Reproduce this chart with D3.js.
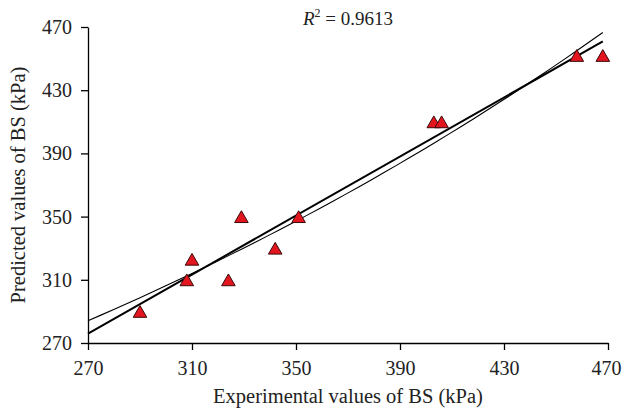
<!DOCTYPE html>
<html>
<head>
<meta charset="utf-8">
<script src="https://cdn.jsdelivr.net/npm/d3@7"></script>
<style>
  html, body { margin: 0; padding: 0; background: #fff; overflow: hidden; }
  svg { display: block; font-family: "Liberation Serif", "DejaVu Serif", serif; }
</style>
</head>
<body>
<svg id="chart"></svg>
<script>
// values
const experimental = [290, 308, 310, 324, 329, 342, 351, 403, 406, 458, 468];
const predicted = [290, 310, 323, 310, 350, 330, 350, 410, 410, 452, 452];
const tickValues = [270, 310, 350, 390, 430, 470];
const r2Label = "0.9613";

const width = 623;
const height = 410;
const margin = { top: 27, right: 15, bottom: 67, left: 88 };

const svg = d3.select("#chart").attr("width", width).attr("height", height);
const innerWidth = width - margin.left - margin.right;
const innerHeight = height - margin.top - margin.bottom;

const g = svg.append("g").attr("transform", `translate(${margin.left},${margin.top})`);

const x = d3.scaleLinear().domain([270, 470]).range([0, innerWidth]);
const y = d3.scaleLinear().domain([270, 470]).range([innerHeight, 0]);

const data = experimental.map((e, i) => ({ x: e, y: predicted[i] }));

// least squares fits: linear and exponential (trendlines)
const mx = d3.mean(data, (d) => d.x);
const my = d3.mean(data, (d) => d.y);
const slope = d3.sum(data, (d) => (d.x - mx) * (d.y - my)) / d3.sum(data, (d) => (d.x - mx) ** 2);
const intercept = my - slope * mx;

const mly = d3.mean(data, (d) => Math.log(d.y));
const b = d3.sum(data, (d) => (d.x - mx) * (Math.log(d.y) - mly)) / d3.sum(data, (d) => (d.x - mx) ** 2);
const lnA = mly - b * mx;

const x0 = 270;
const x1 = d3.max(experimental);
const xs = d3.range(0, 41).map((i) => x0 + ((x1 - x0) * i) / 40);

const line = d3.line().x((d) => x(d[0])).y((d) => y(d[1]));

// thin exponential trend
g.append("path")
  .datum(xs.map((v) => [v, Math.exp(lnA + b * v)]))
  .attr("d", line)
  .attr("fill", "none")
  .attr("stroke", "#000")
  .attr("stroke-width", 1.1);

// thick linear trend
g.append("path")
  .datum([[x0, slope * x0 + intercept], [x1, slope * x1 + intercept]])
  .attr("d", line)
  .attr("fill", "none")
  .attr("stroke", "#000")
  .attr("stroke-width", 2);

// Axes
const xAxis = g.append("g")
  .attr("transform", `translate(0,${innerHeight})`)
  .call(d3.axisBottom(x).tickValues(tickValues).tickSize(7).tickSizeOuter(0).tickPadding(11));
const yAxis = g.append("g")
  .call(d3.axisLeft(y).tickValues(tickValues).tickSize(7).tickSizeOuter(0).tickPadding(9));

[xAxis, yAxis].forEach((a) => {
  a.select(".domain").attr("stroke", "#000").attr("stroke-width", 1.3);
  a.selectAll(".tick line").attr("stroke", "#000").attr("stroke-width", 1.3);
  a.selectAll("text")
    .style("font-family", "'Liberation Serif', 'DejaVu Serif', serif")
    .style("font-size", "20px")
    .attr("fill", "#222");
});
xAxis.selectAll(".tick:last-of-type text").attr("dx", -2);

// markers
g.selectAll(".pt")
  .data(data)
  .enter()
  .append("path")
  .attr("class", "pt")
  .attr("d", d3.symbol(d3.symbolTriangle, 80))
  .attr("transform", (d) => `translate(${x(d.x)},${y(d.y) + 2})`)
  .attr("fill", "#e3161f")
  .attr("stroke", "#3a0a0a")
  .attr("stroke-width", 1);

// R^2 label
const r2 = svg.append("text")
  .attr("x", 348)
  .attr("y", 25)
  .attr("text-anchor", "middle")
  .style("font-size", "19px")
  .attr("fill", "#222");
r2.append("tspan").style("font-style", "italic").text("R");
r2.append("tspan").attr("dy", -8).style("font-size", "12px").text("2");
r2.append("tspan").attr("dy", 8).text(" = " + r2Label);

// X Axis Label
svg.append("text")
  .attr("x", margin.left + innerWidth / 2)
  .attr("y", 403)
  .attr("text-anchor", "middle")
  .style("font-size", "20.5px")
  .attr("fill", "#222")
  .text("Experimental values of BS (kPa)");

// Y Axis Label
svg.append("text")
  .attr("transform", "rotate(-90)")
  .attr("x", -(margin.top + innerHeight / 2))
  .attr("y", 25)
  .attr("text-anchor", "middle")
  .style("font-size", "20.5px")
  .attr("fill", "#222")
  .text("Predicted values of BS (kPa)");
</script>
</body>
</html>
